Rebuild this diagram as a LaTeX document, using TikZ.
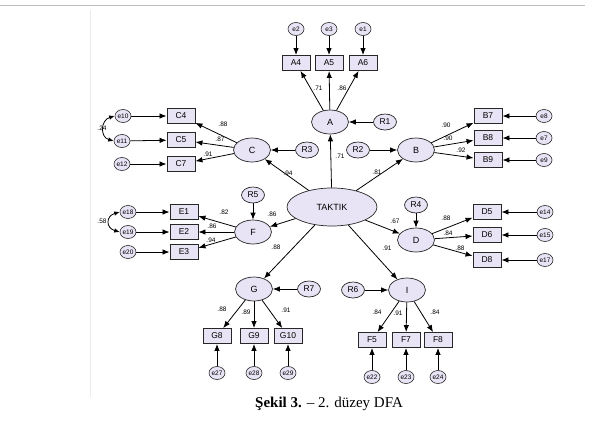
\documentclass[tikz,border=0pt]{standalone}
\usepackage{fontspec}
\setmainfont{Liberation Serif}
\newfontfamily\arialf{Liberation Sans}
\usetikzlibrary{shapes.geometric,arrows.meta}
\definecolor{lav}{RGB}{233,228,245}
\definecolor{edgec}{RGB}{40,40,40}
\begin{document}
\begin{tikzpicture}[x=1pt,y=-1pt,
  lat/.style={ellipse,draw=edgec,line width=0.7pt,fill=lav,minimum width=37,minimum height=24,inner sep=0pt,font=\arialf\fontsize{9}{9}\selectfont},
  obs/.style={rectangle,draw=edgec,line width=0.9pt,fill=lav,minimum width=28,minimum height=15,inner sep=0pt,font=\arialf\fontsize{8.5}{8.5}\selectfont},
  err/.style={ellipse,draw=edgec,line width=0.6pt,fill=lav,minimum width=16,minimum height=13,inner sep=0pt,font=\arialf\fontsize{6.5}{6.5}\selectfont},
  res/.style={ellipse,draw=edgec,line width=0.7pt,fill=lav,minimum width=23,minimum height=16,inner sep=0pt,font=\arialf\fontsize{8.5}{8.5}\selectfont},
  ar/.style={-{Latex[length=7pt,width=5.5pt]},line width=0.8pt},
  cov/.style={{Latex[length=5.5pt,width=4.5pt]}-{Latex[length=5.5pt,width=4.5pt]},line width=0.8pt},
  lab/.style={inner sep=0pt,font=\arialf\fontsize{6.5}{6.5}\selectfont}]
\useasboundingbox (0,0) rectangle (594,434);
\fill[white] (0,0) rectangle (594,434);
\draw[black!25,line width=0.8pt] (0,5) -- (585,5);
\draw[black!8,line width=1pt] (90,10) -- (90,397);

% second-order factor
\node[lat,minimum width=90,minimum height=38] (T) at (332,207) {TAKTIK};

% A
\node[lat] (A) at (330,122) {A};
\node[res] (R1) at (385,122) {R1};
\node[obs] (A4) at (296,63) {A4};
\node[obs] (A5) at (329,63) {A5};
\node[obs] (A6) at (363,63) {A6};
\node[err] (e2) at (296,29) {e2};
\node[err] (e3) at (329,29) {e3};
\node[err] (e1) at (363,29) {e1};

% B
\node[lat] (B) at (416,150) {B};
\node[res] (R2) at (358,150) {R2};
\node[obs] (B7) at (488,116) {B7};
\node[obs] (B8) at (488,138) {B8};
\node[obs] (B9) at (488,160) {B9};
\node[err] (e8) at (544,116) {e8};
\node[err] (e7) at (544,138) {e7};
\node[err] (e9) at (544,160) {e9};

% C
\node[lat] (C) at (252,150) {C};
\node[res] (R3) at (307,150) {R3};
\node[obs] (C4) at (181,116) {C4};
\node[obs] (C5) at (181,140) {C5};
\node[obs] (C7) at (181,164) {C7};
\node[err] (e10) at (123,116) {e10};
\node[err] (e11) at (122,141) {e11};
\node[err] (e12) at (122,164) {e12};

% F
\node[lat] (F) at (253,232) {F};
\node[res] (R5) at (253,195) {R5};
\node[obs] (E1) at (184,212) {E1};
\node[obs] (E2) at (184,232) {E2};
\node[obs] (E3) at (184,252) {E3};
\node[err] (e18) at (128,212) {e18};
\node[err] (e19) at (128,232) {e19};
\node[err] (e20) at (128,252) {e20};

% D
\node[lat] (D) at (416,240) {D};
\node[res] (R4) at (416,205) {R4};
\node[obs] (D5) at (487,212) {D5};
\node[obs] (D6) at (487,235) {D6};
\node[obs] (D8) at (487,260) {D8};
\node[err] (e14) at (545,212) {e14};
\node[err] (e15) at (545,235) {e15};
\node[err] (e17) at (545,260) {e17};

% G
\node[lat] (G) at (254,289) {G};
\node[res] (R7) at (309,289) {R7};
\node[obs] (G8) at (217,336) {G8};
\node[obs] (G9) at (254,336) {G9};
\node[obs] (G10) at (288,336) {G10};
\node[err] (e27) at (217,373) {e27};
\node[err] (e28) at (254,373) {e28};
\node[err] (e29) at (288,373) {e29};

% I
\node[lat] (I) at (407,290) {I};
\node[res] (R6) at (353,290) {R6};
\node[obs] (F5) at (372,340) {F5};
\node[obs] (F7) at (406,340) {F7};
\node[obs] (F8) at (438,340) {F8};
\node[err] (e22) at (372,377) {e22};
\node[err] (e23) at (406,377) {e23};
\node[err] (e24) at (438,377) {e24};

% structural paths
\foreach \t in {A,B,C,D,F,G,I} \draw[ar] (T) -- (\t);
% residuals
\draw[ar] (R1) -- (A);
\draw[ar] (R2) -- (B);
\draw[ar] (R3) -- (C);
\draw[ar] (R4) -- (D);
\draw[ar] (R5) -- (F);
\draw[ar] (R6) -- (I);
\draw[ar] (R7) -- (G);
% loadings
\foreach \l/\o in {A/A4,A/A5,A/A6,B/B7,B/B8,B/B9,C/C4,C/C5,C/C7,F/E1,F/E2,F/E3,D/D5,D/D6,D/D8,G/G8,G/G9,G/G10,I/F5,I/F7,I/F8}
  \draw[ar] (\l) -- (\o);
% errors
\foreach \e/\o in {e2/A4,e3/A5,e1/A6,e8/B7,e7/B8,e9/B9,e10/C4,e11/C5,e12/C7,e18/E1,e19/E2,e20/E3,e14/D5,e15/D6,e17/D8,e27/G8,e28/G9,e29/G10,e22/F5,e23/F7,e24/F8}
  \draw[ar] (\e) -- (\o);
% covariances
\draw[cov] (e10.west) .. controls +(-14,4) and +(-14,-4) .. (e11.west);
\draw[cov] (e18.west) .. controls +(-14,4) and +(-14,-4) .. (e19.west);

% labels
\node[lab] (lA1) at (318,88) {.71};
\node[lab] (lA2) at (342,88) {.86};
\node[lab] (lTA) at (340,156) {.71};
\node[lab] (lC1) at (223,124) {.88};
\node[lab] (lC2) at (220,139) {.87};
\node[lab] (lC3) at (208,154) {.91};
\node[lab] (lTC) at (288,173) {.94};
\node[lab] (lB1) at (446,125) {.90};
\node[lab] (lB2) at (448,138) {.90};
\node[lab] (lB3) at (461,150) {.92};
\node[lab] (lTB) at (377,172) {.81};
\node[lab] (lF1) at (224,212) {.82};
\node[lab] (lF2) at (212,226) {.86};
\node[lab] (lF3) at (211,240) {.94};
\node[lab] (lTF) at (272,214) {.86};
\node[lab] (lTG) at (276,247) {.88};
\node[lab] (lcv1) at (102,128) {.24};
\node[lab] (lcv2) at (102,221) {.58};
\node[lab] (lD1) at (446,218) {.88};
\node[lab] (lD2) at (448,233) {.84};
\node[lab] (lD3) at (460,248) {.88};
\node[lab] (lTD) at (395,221) {.67};
\node[lab] (lTI) at (387,248) {.91};
\node[lab] (lG1) at (222,309) {.88};
\node[lab] (lG2) at (246,312) {.89};
\node[lab] (lG3) at (286,310) {.91};
\node[lab] (lI1) at (377,312) {.84};
\node[lab] (lI2) at (398,313) {.91};
\node[lab] (lI3) at (435,312) {.84};

% caption
\node[inner sep=0pt,font=\fontsize{15}{15}\selectfont] (cap) at (329,404) {\textbf{Şekil 3.} – 2. düzey DFA};
\end{tikzpicture}
\end{document}
